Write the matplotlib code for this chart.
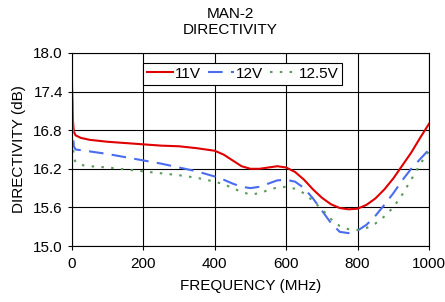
import matplotlib
matplotlib.use("Agg")
import matplotlib.pyplot as plt

plt.rcParams['font.family'] = ['Liberation Sans', 'DejaVu Sans']

freq = [0, 2, 5, 10, 25, 50, 100, 150, 200, 250, 300, 350, 400, 425, 450, 475, 500,
        525, 550, 575, 600, 625, 650, 675, 700, 725, 750, 775, 800, 825, 850, 875,
        900, 925, 950, 975, 1000]
v11 = [17.5, 17.0, 16.78, 16.72, 16.68, 16.65, 16.62, 16.6, 16.58, 16.56, 16.55, 16.52,
       16.48, 16.42, 16.33, 16.24, 16.2, 16.2, 16.22, 16.24, 16.22, 16.15, 16.03, 15.88,
       15.75, 15.65, 15.59, 15.57, 15.58, 15.64, 15.74, 15.88, 16.05, 16.25, 16.45, 16.68, 16.9]
v12 = [17.35, 16.9, 16.55, 16.5, 16.49, 16.47, 16.43, 16.38, 16.33, 16.28, 16.22, 16.16,
       16.08, 16.03, 15.97, 15.92, 15.9, 15.92, 15.97, 16.02, 16.03, 16.0, 15.9, 15.74,
       15.55, 15.36, 15.22, 15.2, 15.24, 15.33, 15.47, 15.64, 15.82, 16.02, 16.2, 16.35, 16.5]
v125 = [17.1, 16.6, 16.38, 16.3, 16.26, 16.24, 16.22, 16.19, 16.16, 16.13, 16.1, 16.06,
        16.0, 15.96, 15.9, 15.84, 15.8, 15.82, 15.87, 15.91, 15.92, 15.89, 15.82, 15.7,
        15.57, 15.42, 15.31, 15.26, 15.25, 15.28, 15.35, 15.46, 15.6, 15.8, 16.03, 16.27, 16.48]
labels = ['11V', '12V', '12.5V']
xticks = [0, 200, 400, 600, 800, 1000]
yticks = [15.0, 15.6, 16.2, 16.8, 17.4, 18.0]

fig = plt.figure(figsize=(4.45, 3.02), dpi=100)
ax = fig.add_axes([72/445, 1-246/302, (429-72)/445, (246-53)/302])

ax.plot(freq, v11, color='#e00000', lw=1.5, label=labels[0])
ax.plot(freq, v12, color='#4a6cf0', lw=1.5, dashes=(7, 4), label=labels[1])
ax.plot(freq, v125, color='#5a9a5a', lw=1.5, dashes=(1.2, 3.5), label=labels[2])

ax.set_xlim(0, 1000)
ax.set_ylim(15.0, 18.0)
ax.set_xticks(xticks)
ax.set_yticks(yticks)
ax.set_yticklabels([f'{t:.1f}' for t in yticks])
ax.grid(True, color='black', lw=0.8)
ax.tick_params(labelsize=11, length=3, width=0.8)
ax.tick_params(axis='x', pad=5)
for s in ax.spines.values():
    s.set_linewidth(0.8)
ax.set_xlabel('FREQUENCY (MHz)', fontsize=11, labelpad=6)
ax.set_ylabel('DIRECTIVITY (dB)', fontsize=11, labelpad=5)
fig.text(230/445, 1-22/302, 'MAN-2\nDIRECTIVITY', fontsize=11, ha='center', va='center',
         linespacing=1.15)

leg = ax.legend(loc='upper left', bbox_to_anchor=((143-72)/357, (246-63)/193), ncol=3,
                fontsize=11, frameon=True, fancybox=False, edgecolor='black', framealpha=1,
                handlelength=1.7, handletextpad=0.15, columnspacing=0.45,
                borderpad=0.25, borderaxespad=0)
leg.get_frame().set_linewidth(0.8)

fig.savefig('out.png', dpi=100)
